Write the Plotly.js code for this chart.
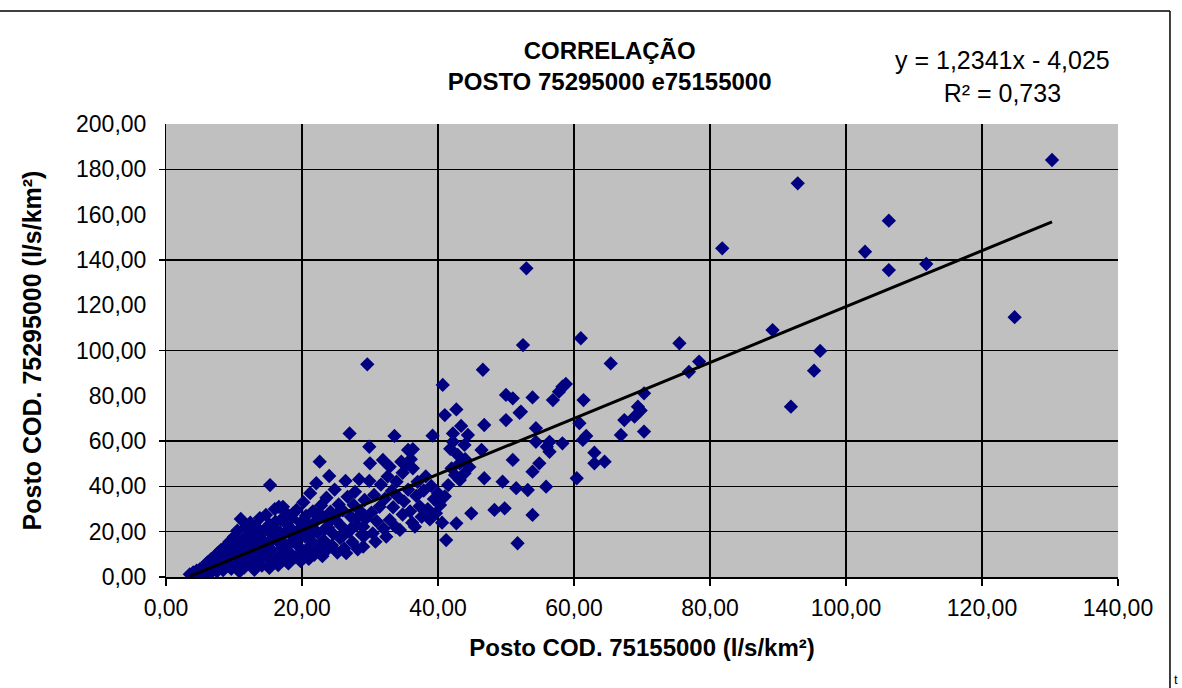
<!DOCTYPE html>
<html>
<head>
<meta charset="utf-8">
<script src="https://cdn.plot.ly/plotly-3.0.1.min.js"></script>
<style>html,body{margin:0;padding:0;background:#fff;}#chart{width:1182px;height:688px;}</style>
</head>
<body>
<div id="chart"></div>
<script>
// Dense cluster (Posto 75155000 -> x, Posto 75295000 -> y), l/s/km²
const lowX = [
  3.5,3.8,4.0,4.2,4.5,4.7,5.0,5.1,5.3,5.5,5.6,
  5.8,6.0,6.1,6.3,6.5,6.6,6.8,7.0,7.1,7.3,7.5,7.6,7.8,8.0,8.1,8.3,8.4,8.6,
  8.8,9.0,9.1,9.3,9.5,9.6,9.8,10.0,10.1,10.3,10.5,10.6,10.8,11.0,11.1,11.3,11.5,
  11.7,11.9,12.0,12.2,12.4,12.5,12.7,12.9,13.1,13.2,13.4,13.6,13.8,14.0,14.1,14.3,
  14.5,14.7,14.8,15.0,15.2,15.3,15.5,15.7,15.9,16.0,16.2,16.4,16.6,16.7,16.9,17.1,
  17.2,17.4,17.6,17.7,17.9,18.1,18.3,18.5,18.7,18.8,19.0,19.2,19.4,19.6,19.8,20.0,
  20.2,20.4,20.6,20.8,21.0,21.2,21.4,21.6,21.8,22.0,22.1,22.3,22.5,22.6,22.8,23.0,23.2,23.4,
  23.6,23.8,24.0,24.2,24.4,24.6,24.8,25.0,25.2,25.4,25.6,25.8,26.0,26.2,26.4,26.5,26.7,26.9,
  10.8,13.0,15.2,16.5,18.0,19.8,21.0,23.0
];
const lowY = [
  1.2,0.8,2.0,1.5,2.8,1.0,3.5,2.2,1.4,4.6,3.0,
  5.2,2.4,6.5,3.8,1.8,7.8,5.0,3.2,9.0,6.2,2.5,10.5,7.4,4.4,12.0,8.8,3.0,6.0,
  13.6,10.2,5.2,15.5,7.8,3.6,12.4,17.8,9.6,5.8,20.5,14.0,11.2,25.6,7.0,16.8,4.2,
  21.8,12.8,9.0,18.6,24.0,6.4,15.0,11.0,22.4,19.8,8.2,13.6,26.0,17.0,5.0,10.6,
  20.8,27.4,14.6,8.4,23.2,40.6,12.0,18.4,6.8,30.0,21.0,15.8,31.0,9.6,25.2,12.8,
  31.0,19.0,7.6,28.1,22.8,14.4,10.4,26.0,28.1,17.4,8.8,29.6,20.6,13.2,24.0,10.6,
  33.0,18.0,27.0,12.6,22.0,37.0,15.8,29.0,9.8,24.6,41.4,19.6,13.0,50.9,31.6,26.8,16.2,11.2,
  35.0,21.8,44.6,28.8,14.0,19.0,38.6,25.0,10.8,32.0,17.2,22.4,29.4,12.6,42.4,10.5,35.4,20.0,
  2.4,3.2,4.0,5.2,6.0,7.0,8.0,9.2
];
// Extra points inside the dense band
const fillX = [6.4,7.2,7.9,8.5,9.2,9.9,10.4,11.2,11.8,12.6,13.3,13.9,14.6,15.4,16.1,16.8,17.5,18.2,19.1,19.9,20.7,21.5,22.4,23.3,24.1,25.1,26.1,27.1,28.1,29.1];
const fillY = [4.8,7.0,5.6,10.4,8.4,14.8,11.0,9.4,15.6,18.0,12.2,20.2,9.8,16.0,24.4,19.6,14.2,21.6,16.0,19.0,24.0,19.2,27.4,21.0,24.8,27.8,18.4,21.0,26.0,18.0];
// Middle band
const midX = [
  27.0,27.2,27.4,27.6,27.8,28.0,28.2,28.4,28.6,28.8,29.0,29.0,29.2,29.4,29.6,29.9,29.9,30.0,30.2,30.4,30.6,30.8,
  31.0,31.4,31.6,31.9,32.0,32.2,32.4,32.6,32.9,32.9,33.2,33.4,33.6,33.8,33.9,34.2,34.4,34.6,34.8,
  35.0,35.3,35.6,35.6,35.9,36.2,36.3,36.3,36.6,36.8,37.0,37.3,37.6,37.9,38.2,38.5,38.8,39.0,39.2,39.4,39.7,40.0,40.3,40.7,40.6,41.0,41.0,41.2,41.5,
  42.0,44.0,42.5,41.8,44.6,34.8,36.0
];
const midY = [
  63.4,26.6,15.4,31.8,37.6,22.8,12.2,43.1,29.0,18.6,13.4,22.2,34.0,25.8,93.9,57.5,42.4,50.2,28.4,19.3,36.2,15.6,
  24.6,31.0,40.8,51.7,21.4,34.6,17.8,44.4,48.7,25.2,38.0,30.8,62.3,22.0,42.1,35.2,20.8,50.9,27.6,
  33.4,49.4,56.1,38.6,29.0,24.0,56.4,48.0,22.2,35.8,42.0,31.2,26.6,38.2,44.4,30.0,25.4,40.2,62.4,34.4,28.2,37.0,31.8,84.8,24.0,71.5,35.6,16.3,40.6,
  48.0,52.0,45.0,56.6,48.6,46.0,52.0
];
// Upper-middle points
const upX = [
  46.6,50.0,51.0,52.0,42.7,50.0,46.8,43.4,42.2,44.4,42.2,43.9,46.4,42.9,43.2,51.0,43.9,43.2,46.8,49.5,51.5,53.2,44.9,48.3,49.8,42.7,51.7,
  52.5,61.0,75.5,65.4,78.4,76.9,58.3,57.8,58.8,53.9,56.9,61.4,70.3,69.4,69.8,68.9,67.4,60.8,52.2,54.4,66.9,70.3,61.8,61.3,54.4,56.4,58.3,56.0,56.4,63.0,63.0,64.5,54.9,53.9,60.4,55.9,53.9
];
const upY = [
  91.5,80.4,78.9,72.5,74.0,69.3,67.1,66.7,63.4,62.7,59.7,58.3,56.1,53.9,50.2,51.7,45.8,42.8,43.6,42.1,39.2,38.4,28.1,29.6,30.3,23.7,14.9,
  102.4,105.4,103.2,94.3,95.1,90.6,84.0,81.8,85.2,79.3,78.1,78.1,81.1,75.2,73.5,70.8,69.3,67.9,73.0,65.7,62.7,64.2,62.3,60.5,59.7,59.7,59.0,57.5,55.3,54.9,50.2,50.9,50.2,46.5,43.6,39.9,27.4
];
// High flows
const highX = [53.0,130.3,92.9,106.3,102.8,106.3,111.8,124.8,96.2,95.3,91.9,81.8,89.2];
const highY = [136.3,184.1,173.8,157.3,143.6,135.5,138.2,114.7,99.8,91.1,75.2,145.1,109.0];

const trendSlope = 1.2341, trendIntercept = -4.025;
const xTickVals = [0,20,40,60,80,100,120,140];
const xTickText = ["0,00","20,00","40,00","60,00","80,00","100,00","120,00","140,00"];
const yTickVals = [0,20,40,60,80,100,120,140,160,180,200];
const yTickText = ["0,00","20,00","40,00","60,00","80,00","100,00","120,00","140,00","160,00","180,00","200,00"];
const yGridVals = [0,20,40,60,100,140,180];

const allX = lowX.concat(fillX, midX, upX, highX);
const allY = lowY.concat(fillY, midY, upY, highY);
const tx = [Math.min(...allX), Math.max(...allX)];
const ty = tx.map(v => trendSlope * v + trendIntercept);

const font = "Liberation Sans, Arial, sans-serif";
const data = [
  {type:'scatter', mode:'markers', x: allX, y: allY,
   marker:{symbol:'diamond', size:11, color:'#000080'}, hoverinfo:'x+y', showlegend:false},
  {type:'scatter', mode:'lines', x: tx, y: ty,
   line:{color:'#000000', width:3}, showlegend:false, hoverinfo:'skip'},
  {type:'scatter', mode:'markers', x:[0], y:[0], yaxis:'y2', marker:{opacity:0}, showlegend:false, hoverinfo:'skip'}
];

const layout = {
  width:1182, height:688,
  margin:{l:166, r:64, t:124, b:111},
  paper_bgcolor:'#ffffff', plot_bgcolor:'#c0c0c0',
  font:{family:font, color:'#000'},
  title:{text:'CORRELAÇÃO<br>POSTO 75295000 e75155000',
         font:{family:font, size:24, weight:'bold', color:'#000'},
         xref:'paper', x:0.466, xanchor:'center', yref:'container', y:0.914, yanchor:'middle'},
  xaxis:{range:[0,140], tickvals:xTickVals, ticktext:xTickText,
         showgrid:true, gridcolor:'#000', gridwidth:1.5, zeroline:false,
         showline:true, linecolor:'#000', linewidth:1.5,
         ticks:'outside', ticklen:7, tickcolor:'#000', tickwidth:1.5,
         tickfont:{family:font, size:23, color:'#000'}, ticklabelstandoff:3,
         title:{text:'Posto COD. 75155000 (l/s/km²)', font:{family:font, size:24, weight:'bold', color:'#000'}, standoff:19}},
  yaxis:{range:[0,200], tickvals:yGridVals, showticklabels:false,
         showgrid:true, gridcolor:'#000', gridwidth:1.5, zeroline:false,
         showline:true, linecolor:'#000', linewidth:1.5,
         ticks:'outside', ticklen:6, tickcolor:'#000', tickwidth:1.5},
  yaxis2:{range:[0,200], overlaying:'y', side:'left', anchor:'x',
          tickvals:yTickVals, ticktext:yTickText, showgrid:false, zeroline:false, showline:false,
          ticks:'outside', ticklen:14, tickcolor:'rgba(0,0,0,0)',
          tickfont:{family:font, size:23, color:'#000'},
          title:{text:'Posto COD. 75295000 (l/s/km²)', font:{family:font, size:25, weight:'bold', color:'#000'}, standoff:27}},
  annotations:[
    {xref:'paper', yref:'paper', x:0.879, y:1.104, xanchor:'center', yanchor:'middle', showarrow:false,
     text:'y = 1,2341x - 4,025<br>R² = 0,733', font:{family:font, size:25, color:'#000'}},
    {xref:'paper', yref:'paper', x:1.061, y:-0.227, xanchor:'center', yanchor:'middle', showarrow:false,
     text:'t', font:{family:font, size:13, color:'#000'}}
  ],
  shapes:[
    {type:'line', xref:'paper', yref:'paper', x0:-0.18, x1:1.0546, y0:1.2494, y1:1.2494, line:{color:'#000', width:1.5}},
    {type:'line', xref:'paper', yref:'paper', x0:1.0546, x1:1.0546, y0:1.2494, y1:-0.26, line:{color:'#000', width:1.5}}
  ]
};

Plotly.newPlot('chart', data, layout, {displayModeBar:false, staticPlot:true});
</script>
</body>
</html>
